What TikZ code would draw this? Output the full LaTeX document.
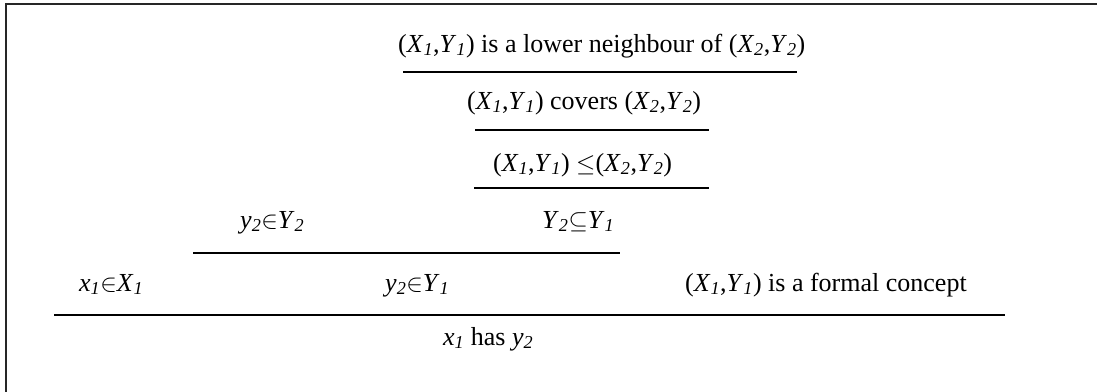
\documentclass[tikz,border=0pt]{standalone}
\usepackage{fontspec}
\setmainfont{Liberation Serif}
\usetikzlibrary{positioning}
\newcommand{\cpt}[1]{(\textit{X}\textsubscript{\textit{#1}},\textit{Y}\textsubscript{\textit{#1}})}
\newcommand{\sub}[2]{\textit{#1}\textsubscript{\textit{#2}}}

\begin{document}
\begin{tikzpicture}[x=1pt, y=-1pt,
    lbl/.style={inner sep=0pt, anchor=base west, font=\fontsize{26}{30}\selectfont},
    bar/.style={line width=1.7pt},
    thinbar/.style={line width=1.1pt}]
    \useasboundingbox (0,0) rectangle (1097,391);
    \draw[line width=2pt, black!85] (5.5,3.5) rectangle (1120,420);
    % top of the tree
    \node[lbl] (nb) at (398,52) {\cpt{1} is a lower neighbour of \cpt{2}};
    \node[lbl] (cv) at (467,109) {\cpt{1} covers \cpt{2}};
    \node[lbl] (le) at (493,171) {\cpt{1} $\leq$\cpt{2}};
    % premises
    \node[lbl] (yy) at (240,228) {\sub{y}{2}$\in$\sub{Y}{2}};
    \node[lbl] (ss) at (542,228) {\sub{Y}{2}$\subseteq$\sub{Y}{1}};
    \node[lbl] (xx) at (79,291) {\sub{x}{1}$\in$\sub{X}{1}};
    \node[lbl] (yz) at (385,291) {\sub{y}{2}$\in$\sub{Y}{1}};
    \node[lbl] (fc) at (685,291) {\cpt{1} is a formal concept};
    \node[lbl] (hs) at (443,345) {\sub{x}{1} has \sub{y}{2}};
    % inference bars
    \draw[bar] (403,72) -- (797,72);
    \draw[bar] (475,130) -- (709,130);
    \draw[thinbar] (474,188) -- (709,188);
    \draw[bar] (193,253) -- (620,253);
    \draw[bar] (54,315) -- (642,315);
    \draw[thinbar] (642,315) -- (1005,315);
\end{tikzpicture}
\end{document}
